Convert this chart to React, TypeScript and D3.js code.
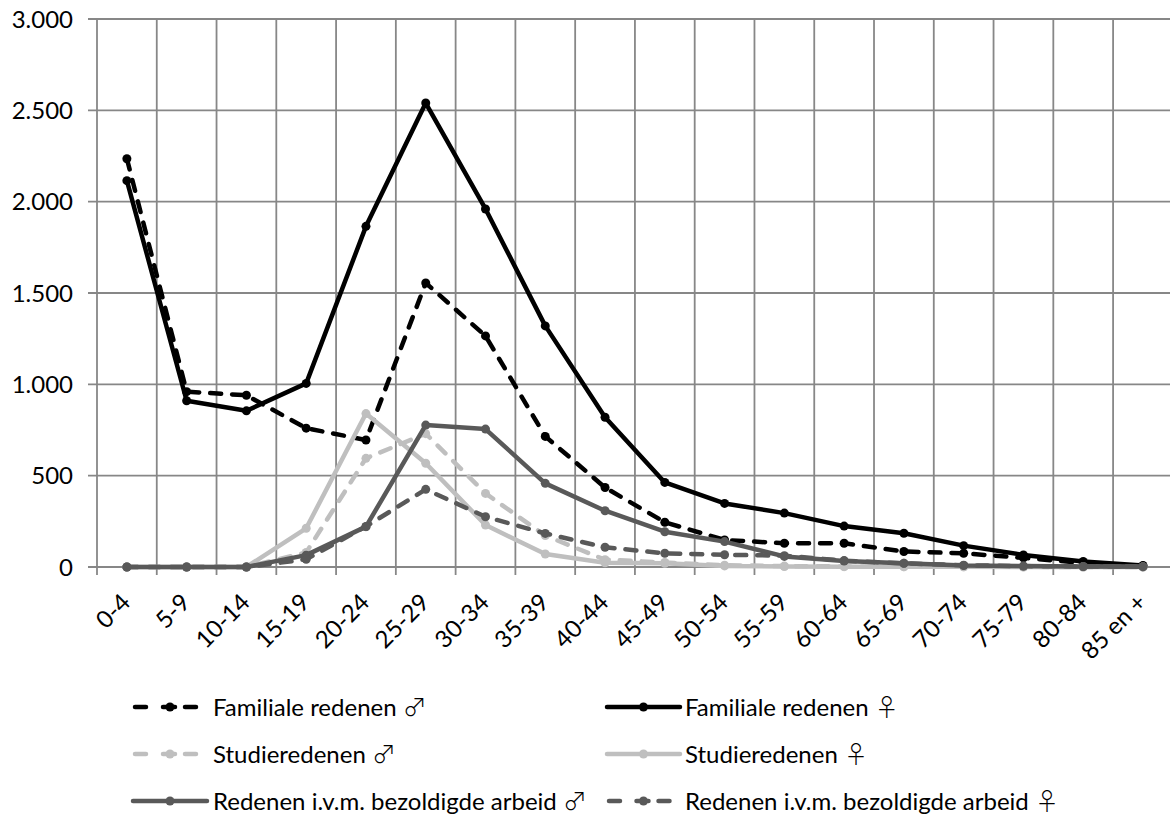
import React from "react";
import * as d3 from "d3";

const categories = ["0-4","5-9","10-14","15-19","20-24","25-29","30-34","35-39","40-44","45-49","50-54","55-59","60-64","65-69","70-74","75-79","80-84","85 en +"];

const familialeM = [2235, 960, 940, 760, 695, 1555, 1265, 715, 435, 245, 148, 130, 130, 85, 75, 50, 22, 5];
const familialeV = [2115, 910, 855, 1005, 1865, 2540, 1960, 1320, 820, 463, 348, 295, 224, 185, 117, 66, 30, 8];
const studieM = [0, 0, 0, 80, 595, 730, 403, 172, 40, 25, 10, 5, 3, 2, 1, 1, 0, 0];
const studieV = [0, 0, 0, 212, 840, 568, 230, 71, 23, 20, 6, 3, 2, 1, 1, 0, 0, 0];
const arbeidM = [0, 0, 0, 65, 221, 777, 755, 458, 308, 193, 139, 58, 33, 20, 8, 5, 3, 2];
const arbeidV = [0, 0, 0, 42, 222, 425, 275, 184, 108, 75, 67, 62, 35, 20, 10, 5, 3, 2];

const yTicks = [0, 500, 1000, 1500, 2000, 2500, 3000];

const seriesLabels = [
  "Familiale redenen",
  "Familiale redenen",
  "Studieredenen",
  "Studieredenen",
  "Redenen i.v.m. bezoldigde arbeid",
  "Redenen i.v.m. bezoldigde arbeid",
];
const seriesSymbols = ["\u2642", "\u2640", "\u2642", "\u2640", "\u2642", "\u2640"];
const seriesValues = [familialeM, familialeV, studieM, studieV, arbeidM, arbeidV];
const seriesColors = ["#000000", "#000000", "#bfbfbf", "#bfbfbf", "#595959", "#595959"];
const seriesDashed = [true, false, true, false, false, true];

const W = 1170, H = 816;
const left = 97, top = 19, bottom = 567;
const band = 59.77;
const right = left + band * categories.length;
const FONT = "Lato, 'Open Sans', sans-serif";
const GRID = "#878787";
const DASH = "11 11";
const LW = 4.5;

export default function App() {
  const x = d3.scaleBand<string>().domain(categories).range([left, right]).padding(0);
  const y = d3.scaleLinear().domain([0, 3000]).range([bottom, top]);
  const cx = (c: string) => (x(c) as number) + x.bandwidth() / 2;
  const line = d3.line<number>().x((_, i) => cx(categories[i])).y((v) => y(v));
  const fmt = (v: number) => d3.format(",")(v).replace(/,/g, ".");

  const legendRows = [707, 754, 801];
  const legendCols = [
    { x0: 133, x1: 207, tx: 213 },
    { x0: 607, x1: 680, tx: 685 },
  ];

  return (
    <svg width={W} height={H} style={{ position: "absolute", left: 0, top: 0, background: "#fff" }}>
      <rect x={0} y={0} width={W} height={H} fill="#fff" />
      {yTicks.map((t) => (
        <line key={"h" + t} x1={88} x2={right} y1={y(t)} y2={y(t)} stroke={GRID} strokeWidth={1.8} />
      ))}
      {d3.range(categories.length + 1).map((i) => {
        const xx = left + i * x.bandwidth();
        return <line key={"v" + i} x1={xx} x2={xx} y1={top} y2={575} stroke={GRID} strokeWidth={1.8} />;
      })}
      {yTicks.map((t) => (
        <text key={"yl" + t} x={73} y={y(t)} dy="0.36em" textAnchor="end" fontFamily={FONT} fontSize={24} fill="#000">
          {fmt(t)}
        </text>
      ))}
      {categories.map((c) => (
        <text key={"xl" + c} transform={`translate(${cx(c) + 5},${604}) rotate(-45)`} textAnchor="end" fontFamily={FONT} fontSize={24} fill="#000">
          {c}
        </text>
      ))}
      {seriesValues.map((vals, si) => (
        <g key={"s" + si}>
          <path d={line(vals) as string} fill="none" stroke={seriesColors[si]} strokeWidth={LW}
            strokeLinejoin="round" strokeLinecap="round" strokeDasharray={seriesDashed[si] ? DASH : undefined} />
          {vals.map((v, i) => (
            <circle key={i} cx={cx(categories[i])} cy={y(v)} r={4.5} fill={seriesColors[si]} />
          ))}
        </g>
      ))}
      {seriesLabels.map((name, si) => {
        const row = legendRows[Math.floor(si / 2)];
        const col = legendCols[si % 2];
        const mid = (col.x0 + col.x1) / 2;
        return (
          <g key={"lg" + si}>
            {seriesDashed[si] ? (
              <g>
                <line x1={col.x0 + 2} x2={col.x0 + 13} y1={row} y2={row} stroke={seriesColors[si]} strokeWidth={LW} strokeLinecap="round" />
                <line x1={mid - 7} x2={mid + 5} y1={row} y2={row} stroke={seriesColors[si]} strokeWidth={LW} strokeLinecap="round" />
                <line x1={mid + 15} x2={mid + 26} y1={row} y2={row} stroke={seriesColors[si]} strokeWidth={LW} strokeLinecap="round" />
              </g>
            ) : (
              <line x1={col.x0} x2={col.x1} y1={row} y2={row} stroke={seriesColors[si]} strokeWidth={LW} strokeLinecap="round" />
            )}
            <circle cx={mid} cy={row} r={4.5} fill={seriesColors[si]} />
            <text x={col.tx} y={row} dy="0.36em" fontFamily={FONT} fontSize={24} fill="#000">
              {name + " "}
              <tspan fontFamily="'Noto Sans CJK JP', 'Noto Sans CJK SC', sans-serif" fontSize={24} fontWeight={300}>{seriesSymbols[si]}</tspan>
            </text>
          </g>
        );
      })}
    </svg>
  );
}
